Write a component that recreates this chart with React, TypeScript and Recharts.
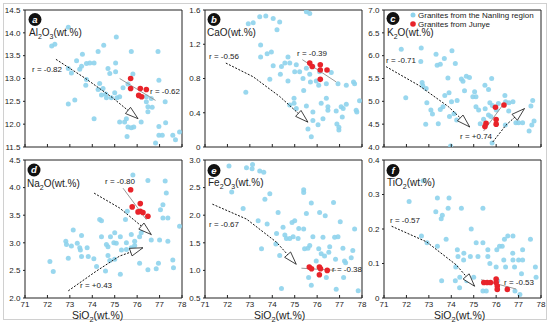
import React from "react"
import { ScatterChart, Scatter, XAxis, YAxis, ReferenceArea } from "recharts"

type Pt = [number, number]

const siTicks = [71, 72, 73, 74, 75, 76, 77, 78]

// a: Al2O3
const al2o3Ticks = [11.5, 12, 12.5, 13, 13.5, 14, 14.5]
const nanlingAl2O3: Pt[] = [
  [72.93, 14.12], [72.19, 13.71], [72.33, 13.75], [75.07, 13.91], [74.51, 13.73], [74.26, 13.59],
  [73.56, 13.53], [73.3, 13.39], [73.74, 13.33], [73.89, 13.34], [74.08, 13.34], [73.52, 13.27],
  [73.07, 13.12], [72.93, 13.22], [73.44, 13.2], [74.7, 13.22], [75.04, 13.34], [74.78, 13.11],
  [75.04, 13.15], [75.74, 13.59], [75.81, 13.1], [76.93, 13.59], [76.97, 12.96], [73.74, 12.98],
  [73.71, 12.85], [74.33, 12.89], [74.26, 12.76], [74.48, 12.78], [74.6, 12.66], [74.63, 12.58],
  [74.85, 12.58], [75.0, 12.69], [75.1, 12.58], [74.41, 12.64], [75.37, 12.8], [75.59, 12.88],
  [75.22, 12.6], [76.41, 12.6], [76.41, 12.49], [76.48, 12.38], [76.63, 12.56], [76.48, 12.27],
  [76.67, 12.37], [77.25, 12.49], [72.93, 12.44], [73.22, 12.53], [74.08, 12.12], [75.52, 12.12],
  [75.22, 12.05], [75.44, 12.05], [75.59, 11.94], [75.74, 11.92], [75.85, 11.94], [75.55, 11.73],
  [76.18, 12.05], [76.97, 11.95], [77.27, 12.03], [76.97, 11.76], [77.12, 11.76], [77.59, 11.76],
  [77.89, 11.83], [77.71, 11.66], [76.82, 11.59],
]
const junyeAl2O3: Pt[] = [[75.71, 13.0], [75.71, 12.78], [76.14, 12.78], [76.41, 12.76], [76.07, 12.63], [76.2, 12.6]]
const fitAl2O3: Pt[] = [[75.22, 13.0], [76.82, 12.52]]
const trendAl2O3: Pt[] = [[72.38, 13.42], [73.7, 13.0], [74.9, 12.58], [76.04, 12.12]]

// b: CaO
const caoTicks = [0, 0.4, 0.8, 1.2, 1.6]
const nanlingCaO: Pt[] = [
  [73.44, 1.52], [73.71, 1.53], [74.04, 1.5], [72.93, 1.44], [73.15, 1.45], [74.33, 1.46], [74.21, 1.37],
  [75.52, 1.58], [75.67, 1.56], [73.48, 1.19], [73.48, 1.05], [73.77, 1.09], [73.96, 1.11], [74.7, 1.05],
  [74.04, 0.95], [74.56, 0.98], [74.78, 0.98], [74.41, 0.94], [74.36, 0.85], [73.89, 0.79], [75.07, 0.96],
  [75.22, 0.88], [75.0, 0.88], [75.52, 0.92], [75.67, 0.85], [75.81, 0.94], [76.11, 0.88], [76.63, 0.87],
  [76.93, 0.74], [77.3, 0.72], [77.62, 0.76], [77.67, 0.74], [74.7, 0.77], [75.37, 0.8], [75.7, 0.76],
  [75.96, 0.77], [76.07, 0.72], [76.41, 0.74], [75.4, 0.66], [72.82, 0.64], [74.97, 0.57], [74.97, 0.51],
  [74.78, 0.49], [75.52, 0.48], [76.18, 0.51], [76.41, 0.57], [76.48, 0.47], [76.48, 0.43], [76.85, 0.42],
  [77.07, 0.47], [77.3, 0.5], [77.16, 0.45], [77.89, 0.54], [77.74, 0.43], [77.77, 0.41], [75.81, 0.41],
  [76.26, 0.33], [77.12, 0.35], [75.81, 0.31], [75.59, 0.21], [75.74, 0.12], [76.88, 0.27], [76.97, 0.23],
  [76.97, 0.2], [76.04, 0.26], [75.07, 0.45],
]
const junyeCaO: Pt[] = [[75.67, 0.98], [75.78, 0.94], [76.14, 0.96], [76.14, 0.9], [76.44, 0.9], [76.14, 0.79]]
const fitCaO: Pt[] = [[75.34, 1.02], [76.85, 0.76]]
const trendCaO: Pt[] = [[71.93, 0.98], [73.15, 0.82], [74.33, 0.59], [75.59, 0.29]]

// c: K2O
const k2oTicks = [4, 4.5, 5, 5.5, 6, 6.5, 7]
const nanlingK2O: Pt[] = [
  [71.77, 6.14], [72.66, 6.17], [72.64, 5.87], [73.32, 6.03], [74.03, 6.11], [73.69, 5.94], [73.37, 5.79],
  [73.51, 5.81], [74.18, 5.83], [72.7, 5.41], [72.73, 5.34], [71.97, 5.08], [72.88, 5.28], [73.85, 5.51],
  [74.45, 5.49], [74.52, 5.44], [74.67, 5.55], [74.81, 5.52], [74.59, 5.23], [75.04, 5.21], [74.96, 5.1],
  [73.71, 5.13], [73.9, 5.19], [72.91, 4.97], [73.09, 4.81], [73.16, 4.72], [73.63, 4.88], [74.01, 4.99],
  [74.26, 5.02], [73.51, 4.82], [72.86, 4.5], [73.42, 4.51], [73.92, 4.67], [74.12, 4.73], [74.24, 4.59],
  [75.5, 5.35], [75.8, 5.5], [75.66, 5.26], [76.39, 5.13], [75.1, 4.88], [75.22, 4.81], [75.51, 4.84],
  [75.72, 4.97], [75.83, 4.91], [76.1, 4.95], [76.42, 4.99], [76.57, 4.97], [76.75, 4.99], [75.66, 4.7],
  [75.44, 4.61], [75.29, 4.51], [75.76, 4.67], [76.01, 4.81], [76.56, 4.79], [76.41, 4.48], [76.88, 4.53],
  [77.0, 4.53], [77.18, 4.53], [77.55, 4.9], [77.63, 5.02], [77.69, 4.57], [77.59, 4.48], [77.47, 4.35],
  [75.82, 4.09], [73.97, 4.02], [75.1, 5.1],
]
const junyeK2O: Pt[] = [[75.55, 4.52], [75.5, 4.45], [76.0, 4.6], [76.0, 4.5], [75.97, 4.87], [76.35, 4.92]]
const fitK2O: Pt[] = [[75.44, 4.35], [76.33, 4.94]]
const trendK2O: Pt[] = [[71.09, 5.76], [72.55, 5.35], [73.88, 4.88], [74.82, 4.44]]
const trendK2OUp: Pt[] = [[75.85, 4.11], [76.44, 4.48], [77.26, 4.84]]

// d: Na2O
const na2oTicks = [2, 2.5, 3, 3.5, 4, 4.5]
const nanlingNa2O: Pt[] = [
  [75.81, 4.23], [76.48, 4.13], [77.25, 4.12], [77.3, 3.9], [77.15, 3.69], [77.04, 3.6], [77.15, 3.45],
  [77.37, 3.45], [77.89, 3.3], [75.56, 3.57], [75.48, 3.42], [74.33, 3.42], [74.41, 3.4], [73.15, 3.23],
  [73.52, 3.13], [74.41, 3.11], [74.81, 3.11], [75.0, 3.18], [75.25, 3.11], [74.96, 3.0], [75.07, 2.99],
  [74.63, 2.97], [74.7, 2.93], [75.52, 3.0], [75.74, 3.15], [75.89, 3.03], [76.11, 3.11], [76.26, 3.24],
  [76.18, 3.18], [76.63, 3.05], [77.0, 3.05], [77.37, 3.03], [75.89, 2.95], [75.74, 2.91], [75.52, 2.88],
  [75.3, 2.87], [72.82, 3.03], [72.85, 2.97], [73.07, 2.94], [73.33, 2.99], [73.44, 2.91], [73.77, 2.91],
  [73.47, 2.87], [73.52, 2.75], [73.82, 2.75], [74.07, 2.71], [72.93, 2.72], [74.7, 2.77], [75.0, 2.7],
  [74.78, 2.68], [74.19, 2.57], [74.59, 2.49], [75.25, 2.43], [76.11, 2.63], [76.48, 2.51], [76.85, 2.53],
  [76.95, 2.63], [77.59, 2.69], [77.62, 2.55], [72.11, 2.66], [72.26, 2.48],
]
const junyeNa2O: Pt[] = [[75.71, 3.96], [75.78, 3.65], [76.14, 3.71], [76.14, 3.57], [76.26, 3.55], [76.04, 3.56], [76.48, 3.48]]
const fitNa2O: Pt[] = [[75.37, 3.99], [76.41, 3.42]]
const trendNa2O: Pt[] = [[74.08, 3.9], [75.22, 3.63], [76.11, 3.33], [76.63, 3.15]]
const trendNa2OUp: Pt[] = [[72.93, 2.13], [74.19, 2.49], [75.22, 2.76], [76.26, 2.91]]

// e: Fe2O3
const fe2o3Ticks = [0.5, 1, 1.5, 2, 2.5, 3]
const nanlingFe2O3: Pt[] = [
  [72.07, 2.89], [72.85, 2.86], [73.12, 2.92], [73.1, 2.84], [73.44, 2.8], [73.62, 2.78], [72.19, 2.42],
  [73.89, 2.39], [73.67, 2.29], [75.4, 2.46], [75.4, 2.41], [75.74, 2.22], [76.73, 2.23], [72.7, 2.12],
  [74.26, 2.05], [75.52, 2.03], [76.11, 2.05], [76.36, 1.99], [77.03, 1.88], [74.88, 1.87], [75.0, 1.9],
  [75.18, 1.76], [75.4, 1.75], [73.37, 1.9], [73.77, 1.84], [74.19, 1.67], [74.48, 1.78], [74.56, 1.64],
  [74.63, 1.58], [74.78, 1.58], [74.93, 1.61], [75.15, 1.58], [75.81, 1.61], [76.26, 1.6], [76.78, 1.6],
  [76.93, 1.61], [77.67, 1.75], [74.16, 1.48], [75.67, 1.45], [75.59, 1.4], [75.44, 1.39], [73.52, 1.39],
  [76.56, 1.43], [77.15, 1.4], [77.59, 1.36], [76.07, 1.39], [76.18, 1.3], [76.33, 1.26], [76.52, 1.33],
  [76.82, 1.2], [77.22, 1.17], [77.27, 1.14], [77.52, 1.23], [74.33, 1.27], [75.96, 1.17], [75.62, 0.87],
  [76.41, 0.87], [77.18, 0.87], [75.74, 0.73], [74.41, 0.67], [76.85, 0.66], [77.83, 0.63],
]
const junyeFe2O3: Pt[] = [[75.65, 1.06], [75.75, 1.03], [76.1, 1.06], [76.15, 1.03], [76.1, 0.92], [76.45, 1.0]]
const fitFe2O3: Pt[] = [[75.3, 1.04], [76.85, 1.0]]
const trendFe2O3: Pt[] = [[71.33, 2.2], [72.85, 1.93], [74.19, 1.51], [75.07, 1.11]]

// f: TiO2
const tio2Ticks = [0, 0.1, 0.2, 0.3, 0.4]
const nanlingTiO2: Pt[] = [
  [72.75, 0.34], [72.12, 0.28], [73.38, 0.29], [73.9, 0.29], [73.31, 0.25], [73.86, 0.26], [74.45, 0.26],
  [75.41, 0.26], [73.6, 0.24], [73.55, 0.23], [72.67, 0.18], [72.92, 0.16], [73.38, 0.15], [73.77, 0.17],
  [74.89, 0.2], [75.11, 0.16], [75.41, 0.16], [76.37, 0.17], [76.52, 0.18], [76.75, 0.18], [77.53, 0.17],
  [74.27, 0.14], [74.56, 0.13], [75.63, 0.14], [76.03, 0.14], [76.15, 0.15], [76.27, 0.15], [77.18, 0.14],
  [76.74, 0.13], [74.3, 0.12], [74.55, 0.11], [74.85, 0.12], [75.19, 0.12], [75.63, 0.12], [76.34, 0.11],
  [76.75, 0.11], [77.0, 0.11], [77.18, 0.11], [76.82, 0.09], [77.13, 0.07], [77.75, 0.09], [77.78, 0.06],
  [75.72, 0.1], [76.42, 0.09], [76.0, 0.09], [74.2, 0.09], [74.38, 0.06], [74.18, 0.05], [73.57, 0.05],
  [74.69, 0.05], [75.0, 0.06], [74.37, 0.03], [75.41, 0.02], [75.56, 0.02], [76.84, 0.02], [77.06, 0.01],
  [76.07, 0.05],
]
const junyeTiO2: Pt[] = [[75.45, 0.045], [75.6, 0.045], [75.75, 0.045], [76.0, 0.055], [76.0, 0.045], [76.05, 0.035], [76.05, 0.025], [76.5, 0.025]]
const fitTiO2: Pt[] = [[75.33, 0.053], [76.89, 0.026]]
const trendTiO2: Pt[] = [[71.34, 0.208], [72.89, 0.163], [74.22, 0.096], [75.04, 0.034]]

const BLUE = "#8ed3ec"
const RED = "#e8232a"
const INK = "#222"
const PLOT_W = 157
const FONT = "Arial, 'Liberation Sans', sans-serif"

const toXY = (pts: Pt[]) => pts.map(([x, y]) => ({ x, y }))
const toArrow = (pts: Pt[]) =>
  pts.map(([x, y], i) => ({ x, y, prev: i === pts.length - 1 ? pts[i - 1] : null }))

const fmt = (v: number) => (v === 0 ? "0" : v.toFixed(1))

interface PanelProps {
  left: number
  top: number
  plotH: number
  yTicks: number[]
  showX: boolean
  nanling: Pt[]
  junye: Pt[]
  fit: Pt[]
  trends: Pt[][]
}

function Panel({ left, top, plotH, yTicks, showX, nanling, junye, fit, trends }: PanelProps) {
  const y0 = yTicks[0]
  const y1 = yTicks[yTicks.length - 1]
  const kx = PLOT_W / (siTicks[siTicks.length - 1] - siTicks[0])
  const ky = plotH / (y1 - y0)

  const headShape = (p: any) => {
    const { cx, cy, payload } = p
    if (!payload || !payload.prev) return <g />
    const dx = (payload.x - payload.prev[0]) * kx
    const dy = -(payload.y - payload.prev[1]) * ky
    const a = Math.atan2(dy, dx)
    const L = 13
    const W = 4
    const bx = cx - L * Math.cos(a)
    const by = cy - L * Math.sin(a)
    const pts = [
      [cx, cy],
      [bx - W * Math.sin(a), by + W * Math.cos(a)],
      [bx + W * Math.sin(a), by - W * Math.cos(a)],
    ]
    return <polygon points={pts.map((q) => q.join(",")).join(" ")} fill="#fff" stroke="#111" strokeWidth={0.8} />
  }

  return (
    <div style={{ position: "absolute", left: left - 25, top: top - 5 }}>
      <ScatterChart width={25 + PLOT_W + 5} height={5 + plotH + 20} margin={{ top: 5, right: 5, bottom: 0, left: 0 }}>
        <XAxis
          type="number"
          dataKey="x"
          domain={[siTicks[0], siTicks[siTicks.length - 1]]}
          ticks={siTicks}
          interval={0}
          height={20}
          tickSize={0}
          tickMargin={0}
          axisLine={false}
          tickLine={false}
          allowDataOverflow
          tick={(p: any) => (
            <g>
              <line x1={p.x} x2={p.x} y1={p.y} y2={p.y - 3} stroke={INK} />
              {showX && (
                <text x={p.x} y={p.y + 8.5} textAnchor="middle" fontSize={8} fill={INK} fontFamily={FONT}>
                  {p.payload.value}
                </text>
              )}
            </g>
          )}
        />
        <YAxis
          type="number"
          dataKey="y"
          domain={[y0, y1]}
          ticks={yTicks}
          interval={0}
          width={25}
          tickSize={0}
          tickMargin={0}
          axisLine={false}
          tickLine={false}
          allowDataOverflow
          tick={(p: any) => (
            <g>
              <line x1={p.x} x2={p.x - 2} y1={p.y} y2={p.y} stroke={INK} />
              <text x={p.x - 4.6} y={p.y + 2.8} textAnchor="end" fontSize={8} fill={INK} fontFamily={FONT}>
                {fmt(p.payload.value)}
              </text>
            </g>
          )}
        />
        <ReferenceArea x1={siTicks[0]} x2={siTicks[siTicks.length - 1]} y1={y0} y2={y1} fill="none" stroke={INK} strokeWidth={1} ifOverflow="visible" />
        <Scatter
          data={toXY(nanling)}
          isAnimationActive={false}
          shape={(p: any) => <circle cx={p.cx} cy={p.cy} r={2.5} fill={BLUE} fillOpacity={0.9} />}
        />
        <Scatter
          data={toXY(fit)}
          isAnimationActive={false}
          line={{ stroke: "#999", strokeWidth: 1 }}
          lineType="joint"
          shape={() => <g />}
        />
        <Scatter
          data={toXY(junye)}
          isAnimationActive={false}
          shape={(p: any) => <circle cx={p.cx} cy={p.cy} r={2.8} fill={RED} />}
        />
        {trends.map((t, i) => (
          <Scatter
            key={i}
            data={toArrow(t)}
            isAnimationActive={false}
            line={{ stroke: "#111", strokeWidth: 1, strokeDasharray: "2 1.5" }}
            lineType="joint"
            shape={headShape}
          />
        ))}
      </ScatterChart>
    </div>
  )
}

function Chem({ x, y, text, size = 10 }: { x: number; y: number; text: string; size?: number }) {
  const parts = text.match(/\d+|\D+/g) || []
  let sub = false
  return (
    <text x={x} y={y} fontSize={size} fill={INK} fontFamily={FONT}>
      {parts.map((s, i) => {
        const isNum = /\d/.test(s)
        const dy = isNum && !sub ? size * 0.25 : !isNum && sub ? -size * 0.25 : 0
        sub = isNum
        return (
          <tspan key={i} dy={dy} fontSize={isNum ? size * 0.7 : size}>
            {s}
          </tspan>
        )
      })}
    </text>
  )
}

function Badge({ x, y, letter }: { x: number; y: number; letter: string }) {
  return (
    <g>
      <circle cx={x} cy={y} r={6.5} fill="#111" />
      <text x={x} y={y + 3.3} textAnchor="middle" fontSize={9.5} fontStyle="italic" fontWeight="bold" fill="#fff" fontFamily={FONT}>
        {letter}
      </text>
    </g>
  )
}

function RText({ x, y, text }: { x: number; y: number; text: string }) {
  return (
    <text x={x} y={y} fontSize={8} fill={INK} fontFamily={FONT}>
      {text}
    </text>
  )
}

export default function App() {
  return (
    <div style={{ position: "absolute", left: 0, top: 0, width: 550, height: 323, background: "#fff", fontFamily: FONT }}>
      <Panel left={25} top={10} plotH={137} yTicks={al2o3Ticks} showX={false} nanling={nanlingAl2O3} junye={junyeAl2O3} fit={fitAl2O3} trends={[trendAl2O3]} />
      <Panel left={205} top={10} plotH={137} yTicks={caoTicks} showX={false} nanling={nanlingCaO} junye={junyeCaO} fit={fitCaO} trends={[trendCaO]} />
      <Panel left={384} top={10} plotH={137} yTicks={k2oTicks} showX={false} nanling={nanlingK2O} junye={junyeK2O} fit={fitK2O} trends={[trendK2O, trendK2OUp]} />
      <Panel left={25} top={160} plotH={138} yTicks={na2oTicks} showX nanling={nanlingNa2O} junye={junyeNa2O} fit={fitNa2O} trends={[trendNa2O, trendNa2OUp]} />
      <Panel left={205} top={160} plotH={138} yTicks={fe2o3Ticks} showX nanling={nanlingFe2O3} junye={junyeFe2O3} fit={fitFe2O3} trends={[trendFe2O3]} />
      <Panel left={384} top={160} plotH={138} yTicks={tio2Ticks} showX nanling={nanlingTiO2} junye={junyeTiO2} fit={fitTiO2} trends={[trendTiO2]} />
      <svg width={550} height={323} style={{ position: "absolute", left: 0, top: 0, pointerEvents: "none" }}>
        <rect x={3.5} y={3.5} width={543} height={316} fill="none" stroke="#d0d0d0" />
        <Badge x={35} y={19.5} letter="a" />
        <Badge x={214} y={19.5} letter="b" />
        <Badge x={393} y={18.5} letter="c" />
        <Badge x={34} y={170} letter="d" />
        <Badge x={214} y={170.5} letter="e" />
        <Badge x={393} y={170.5} letter="f" />
        <Chem x={29} y={36} text="Al2O3(wt.%)" />
        <Chem x={207} y={36} text="CaO(wt.%)" />
        <Chem x={387} y={36} text="K2O(wt.%)" />
        <Chem x={27} y={187} text="Na2O(wt.%)" />
        <Chem x={208} y={186} text="Fe2O3(wt.%)" />
        <Chem x={387} y={186} text="TiO2(wt.%)" />
        <Chem x={72} y={319} text="SiO2(wt.%)" size={10.5} />
        <Chem x={254} y={319} text="SiO2(wt.%)" size={10.5} />
        <Chem x={434} y={319} text="SiO2(wt.%)" size={10.5} />
        <RText x={32} y={72} text="r = -0.82" />
        <RText x={150} y={94} text="r = -0.62" />
        <RText x={209} y={59} text="r = -0.56" />
        <RText x={297} y={56} text="r = -0.39" />
        <RText x={386} y={63} text="r = -0.71" />
        <RText x={460} y={139} text="r = +0.74" />
        <RText x={105} y={184} text="r = -0.80" />
        <RText x={80} y={288} text="r = +0.43" />
        <RText x={209} y={227} text="r = -0.67" />
        <RText x={332} y={272} text="r = -0.38" />
        <RText x={390} y={223} text="r = -0.57" />
        <RText x={504} y={285} text="r = -0.53" />
        <circle cx={413} cy={15} r={2.5} fill={BLUE} />
        <text x={418} y={18} fontSize={8} fill={INK} fontFamily={FONT}>Granites from the Nanling region</text>
        <circle cx={413} cy={24} r={2.8} fill={RED} />
        <text x={418} y={27} fontSize={8} fill={INK} fontFamily={FONT}>Granites from Junye</text>
      </svg>
    </div>
  )
}
